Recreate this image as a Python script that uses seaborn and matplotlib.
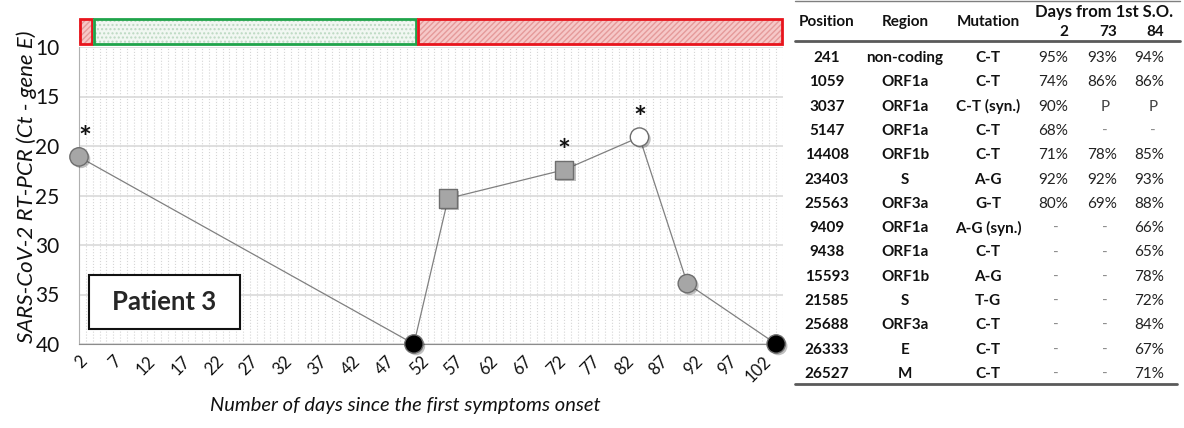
import numpy as np
import pandas as pd
import matplotlib.pyplot as plt
import matplotlib.patheffects as pe
from matplotlib.lines import Line2D
from matplotlib.patches import Rectangle
import seaborn as sns

# --- data ---
days = [2, 51, 56, 73, 84, 91, 104]
ct_values = [21.1, 40, 25.3, 22.4, 19.1, 33.9, 40]
sample_kind = ['grey', 'black', 'square', 'square', 'white', 'grey', 'black']
starred_days = [2, 73, 84]

phase_start = [2, 4, 51.5]
phase_end = [4, 51.5, 105]
phase_kind = ['red', 'green', 'red']

positions = ['241', '1059', '3037', '5147', '14408', '23403', '25563',
             '9409', '9438', '15593', '21585', '25688', '26333', '26527']
regions = ['non-coding', 'ORF1a', 'ORF1a', 'ORF1a', 'ORF1b', 'S', 'ORF3a',
           'ORF1a', 'ORF1a', 'ORF1b', 'S', 'ORF3a', 'E', 'M']
mutations = ['C-T', 'C-T', 'C-T (syn.)', 'C-T', 'C-T', 'A-G', 'G-T',
             'A-G (syn.)', 'C-T', 'A-G', 'T-G', 'C-T', 'C-T', 'C-T']
pct_day2 = ['95%', '74%', '90%', '68%', '71%', '92%', '80%',
            '-', '-', '-', '-', '-', '-', '-']
pct_day73 = ['93%', '86%', 'P', '-', '78%', '92%', '69%',
             '-', '-', '-', '-', '-', '-', '-']
pct_day84 = ['94%', '86%', 'P', '-', '85%', '93%', '88%',
             '66%', '65%', '78%', '72%', '84%', '67%', '71%']

sns.set_style("white")
plt.rcParams['font.family'] = ['Lato', 'DejaVu Sans']

df = pd.DataFrame({'day': days, 'ct': ct_values, 'kind': sample_kind})

W, H = 1184, 428
fig = plt.figure(figsize=(W / 100, H / 100), dpi=100)

def fx(px):
    return px / W

def fy(py):
    return 1 - py / H

ax = fig.add_axes([fx(79), fy(344), fx(783) - fx(79), fy(47) - fy(344)])

sns.lineplot(data=df, x='day', y='ct', sort=False, color='#808080',
             linewidth=0.9, ax=ax, zorder=3)
sns.scatterplot(data=df, x='day', y='ct', hue='kind', style='kind',
                palette={'grey': '#a6a6a6', 'square': '#a6a6a6',
                         'white': '#ffffff', 'black': '#000000'},
                markers={'grey': 'o', 'square': 's', 'white': 'o', 'black': 'o'},
                s=175, edgecolor='#6e6e6e', linewidth=1, legend=False,
                ax=ax, zorder=4, clip_on=False)
for coll in ax.collections:
    coll.set_path_effects([pe.SimplePatchShadow(offset=(1.5, -1.5),
                                                shadow_rgbFace=(0, 0, 0), alpha=0.25),
                           pe.Normal()])

for d in starred_days:
    c = df.loc[df.day == d, 'ct'].iloc[0]
    ax.annotate('*', xy=(d, c), xytext=(4 if d == 2 else 0, 13),
                textcoords='offset points', ha='center', va='center',
                fontsize=22, fontweight='bold', color='#111111')

ax.set_xlim(2, 105)
ax.set_ylim(40, 10)
ax.set_yticks(np.arange(10, 41, 5))
ax.set_xticks(np.arange(2, 103, 5))
ax.set_xticks(np.arange(2, 106, 1), minor=True)
ax.grid(which='both', axis='x', color='#d6d6d6', linestyle=':', linewidth=0.8)
ax.grid(which='major', axis='y', color='#d9d9d9', linestyle='-', linewidth=1.2)
ax.set_axisbelow(True)

ax.tick_params(axis='y', length=0, pad=14, labelsize=15, labelcolor='#111111')
ax.tick_params(axis='x', which='major', direction='inout', length=9,
               width=1, color='#8c8c8c', labelsize=12, labelcolor='#111111', pad=2)
ax.tick_params(axis='x', which='minor', length=0)
plt.setp(ax.get_xticklabels(), rotation=45, ha='right', va='top', rotation_mode='anchor')

for side in ['top', 'right']:
    ax.spines[side].set_visible(False)
ax.spines['bottom'].set_color('#8c8c8c')
ax.spines['left'].set_color('#b0b0b0')

ax.set_xlabel('Number of days since the first symptoms onset', fontsize=14.5,
              style='italic', color='#111111')
ax.xaxis.set_label_coords(0.464, -0.18)
ax.set_ylabel('SARS-CoV-2 RT-PCR (Ct - gene E)', fontsize=16,
              style='italic', color='#111111')
ax.yaxis.set_label_coords(-0.06, 0.529)

ax.add_patch(Rectangle((10 / 704, 15 / 297), 151 / 704, 54 / 297,
                       transform=ax.transAxes, facecolor='white',
                       edgecolor='#111111', linewidth=1.5, zorder=5))
ax.text((10 + 75.5) / 704, (15 + 27) / 297, 'Patient 3', transform=ax.transAxes,
        ha='center', va='center', fontsize=18.5, fontweight='bold', zorder=6)

# --- phase bar above the plot ---
ax_top = fig.add_axes([fx(79), fy(44), fx(783) - fx(79), fy(19) - fy(44)])
fills = {'red': ('#f6c8c8', '#e59a9a', '//////'), 'green': ('#f1f7f2', '#bcd9c2', '....')}
edges = {'red': '#e8141c', 'green': '#1fa34a'}
for s, e, k in zip(phase_start, phase_end, phase_kind):
    fc, hc, hatch = fills[k]
    ax_top.barh(0, e - s, left=s, height=1, color=fc, edgecolor=hc,
                hatch=hatch, linewidth=0)
    ax_top.barh(0, e - s - 0.25, left=s + 0.125, height=1, fill=False,
                edgecolor=edges[k], linewidth=2, clip_on=False)
ax_top.set_xlim(2, 105)
ax_top.set_ylim(-0.5, 0.5)
ax_top.axis('off')

# --- mutation table ---
txt = '#111111'
fig.add_artist(Line2D([fx(795), fx(1180)], [fy(1), fy(1)], color='#7f7f7f', lw=1))
fig.add_artist(Line2D([fx(795), fx(1180)], [fy(41), fy(41)], color='#5a5a5a', lw=2))
fig.add_artist(Line2D([fx(795), fx(1177)], [fy(384), fy(384)], color='#5a5a5a', lw=2))

hfs = 11
for label, x in zip(['Position', 'Region', 'Mutation'], [827, 905, 988]):
    fig.text(fx(x), fy(22), label, ha='center', va='center', fontsize=hfs,
             fontweight='bold', color=txt)
fig.text(fx(1104), fy(12), 'Days from 1st S.O.', ha='center', va='center',
         fontsize=12, fontweight='bold', color=txt)
for label, x in zip(['2', '73', '84'], [1068, 1117, 1164]):
    fig.text(fx(x), fy(32), label, ha='right', va='center', fontsize=hfs,
             fontweight='bold', color=txt)

row_y = [58 + 24.3 * i for i in range(len(positions))]
for i, y in enumerate(row_y):
    fig.text(fx(827), fy(y), positions[i], ha='center', va='center',
             fontsize=hfs, fontweight='bold', color=txt)
    fig.text(fx(905), fy(y), regions[i], ha='center', va='center',
             fontsize=hfs, fontweight='bold', color=txt)
    fig.text(fx(988), fy(y), mutations[i], ha='center', va='center',
             fontsize=hfs, fontweight='bold', color=txt)
    for col, right, mid in zip([pct_day2, pct_day73, pct_day84],
                               [1068, 1117, 1164], [1056, 1105, 1153]):
        v = col[i]
        if v.endswith('%'):
            fig.text(fx(right), fy(y), v, ha='right', va='center',
                     fontsize=hfs, color='#222222')
        else:
            fig.text(fx(mid), fy(y), v, ha='center', va='center',
                     fontsize=hfs, color='#444444' if v == 'P' else '#8a8a8a')

fig.savefig('out.png', dpi=100)
